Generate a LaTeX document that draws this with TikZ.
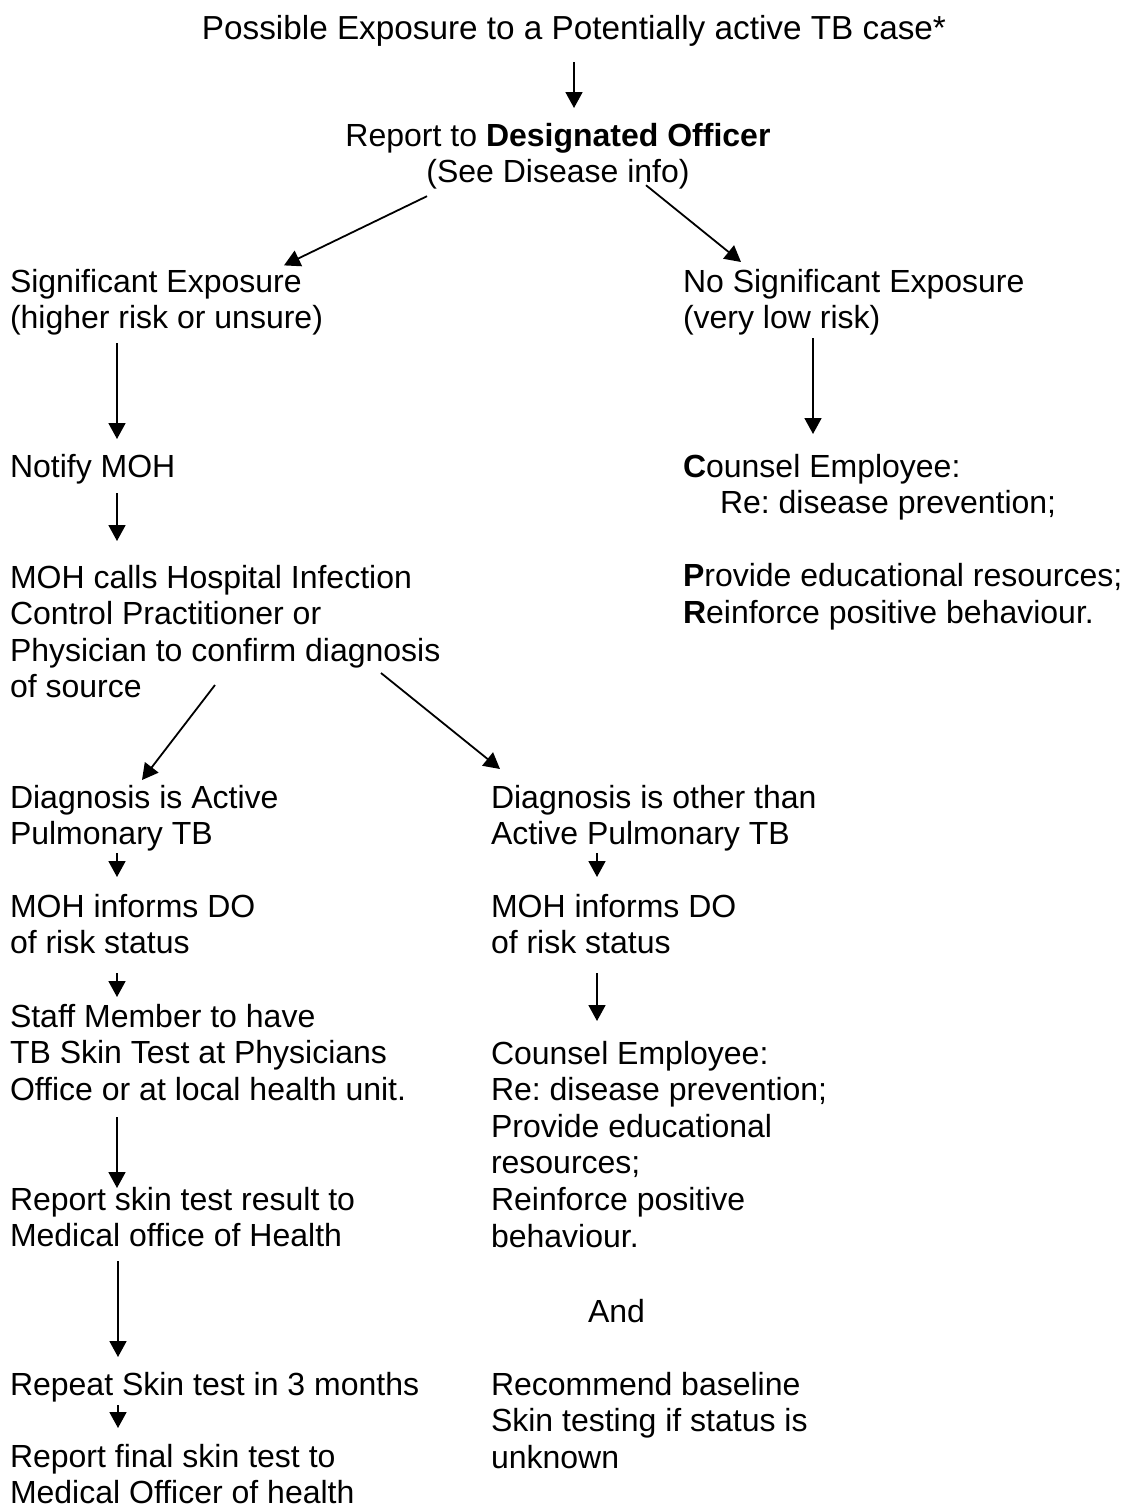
\documentclass[tikz,border=0pt]{standalone}
\usepackage{fontspec}
\setmainfont{Liberation Sans}
\usetikzlibrary{arrows.meta,calc}
\frenchspacing
% fixed-height strut: fixes the top of the first line and the bottom of the last line
\newcommand{\lnstrut}{\rule[-9.6pt]{0pt}{35.2pt}}
\begin{document}
\begin{tikzpicture}[x=1pt,y=-1pt,
  txt/.style={inner sep=0pt, outer sep=0pt, align=left, anchor=north west,
              font=\fontsize{32}{36.6}\selectfont},
  flow/.style={line width=1.8pt, -{Triangle[width=17pt,length=16pt]}}]
\useasboundingbox (0,0) rectangle (1128,1510);

% ---- text blocks ----
\node[txt, anchor=north, align=center, font=\fontsize{33.3}{38}\selectfont] (c0) at (574,13.4)
  {\lnstrut Possible Exposure to a Potentially active TB case*};
\node[txt, anchor=north, align=center] (c1) at (558,120.4)
  {\lnstrut Report to \textbf{Designated Officer}\\(See Disease info)\lnstrut};

\node[txt] (sig) at (10,266.4) {\lnstrut Significant Exposure\\(higher risk or unsure)\lnstrut};
\node[txt] (nosig) at (683,266.4) {\lnstrut No Significant Exposure\\(very low risk)\lnstrut};

\node[txt] (notify) at (10,451.4) {\lnstrut Notify MOH};
\node[txt] (cnsR) at (683,451.4)
  {\lnstrut\textbf{C}ounsel Employee:\\\hspace*{37pt}Re: disease prevention;\\[36.6pt]%
   \textbf{P}rovide educational resources;\\\textbf{R}einforce positive behaviour.\lnstrut};

\node[txt] (calls) at (10,562.4)
  {\lnstrut MOH calls Hospital Infection\\Control Practitioner or\\Physician to confirm diagnosis\\of source\lnstrut};

\node[txt] (diagA) at (10,782.4) {\lnstrut Diagnosis is Active\\Pulmonary TB\lnstrut};
\node[txt] (diagO) at (491,782.4) {\lnstrut Diagnosis is other than\\Active Pulmonary TB\lnstrut};

\node[txt] (infA) at (10,891.4) {\lnstrut MOH informs DO\\of risk status\lnstrut};
\node[txt] (infO) at (491,891.4) {\lnstrut MOH informs DO\\of risk status\lnstrut};

\node[txt] (staff) at (10,1001.4)
  {\lnstrut Staff Member to have\\TB Skin Test at Physicians\\Office or at local health unit.\lnstrut};
\node[txt] (cnsM) at (491,1038.4)
  {\lnstrut Counsel Employee:\\Re: disease prevention;\\Provide educational\\resources;\\Reinforce positive\\behaviour.\lnstrut};

\node[txt] (rep1) at (10,1184.4) {\lnstrut Report skin test result to\\Medical office of Health\lnstrut};
\node[txt] (andnote) at (588,1296.4) {\lnstrut And};

\node[txt] (rep3) at (10,1369.4) {\lnstrut Repeat Skin test in 3 months};
\node[txt] (recom) at (491,1369.4) {\lnstrut Recommend baseline\\Skin testing if status is\\unknown\lnstrut};
\node[txt] (final) at (10,1441.4) {\lnstrut Report final skin test to\\Medical Officer of health\lnstrut};

% ---- connectors ----
\draw[flow] ($(c0.south)+(0,13.4)$) -- ($(c1.north)+(16,-12.4)$);
\draw[flow] ($(c1.south)+(-131,4)$) -- ($(sig.north west)+(274,-1)$);
\draw[flow] ($(c1.south)+(88,-7)$) -- ($(nosig.north west)+(58,-4.4)$);

\draw[flow] ($(sig.south west)+(107,4.8)$) -- ($(notify.north west)+(107,-12.4)$);
\draw[flow] ($(notify.south west)+(107,6.4)$) -- ($(calls.north west)+(107,-21.4)$);
\draw[flow] ($(nosig.south west)+(130,0)$) -- ($(cnsR.north west)+(130,-17.4)$);

\draw[flow] ($(calls.south west)+(205,-22.4)$) -- ($(diagA.north west)+(132,-2.4)$);
\draw[flow] ($(calls.south west)+(371,-34.4)$) -- ($(diagO.north west)+(9,-13.4)$);

\draw[flow] ($(diagA.south west)+(107,-1.2)$) -- ($(infA.north west)+(107,-14.4)$);
\draw[flow] ($(infA.south west)+(107,9.8)$) -- ($(staff.north west)+(107,-4.4)$);
\draw[flow] ($(staff.south west)+(107,7.2)$) -- ($(rep1.north west)+(107,3.6)$);
\draw[flow] ($(rep1.south west)+(108,4.8)$) -- ($(rep3.north west)+(108,-12.4)$);
\draw[flow] ($(rep3.south west)+(108,0.4)$) -- ($(final.north west)+(108,-13.4)$);

\draw[flow] ($(diagO.south west)+(106,-1.2)$) -- ($(infO.north west)+(106,-14.4)$);
\draw[flow] ($(infO.south west)+(106,9.8)$) -- ($(cnsM.north west)+(106,-17.4)$);
\end{tikzpicture}
\end{document}
